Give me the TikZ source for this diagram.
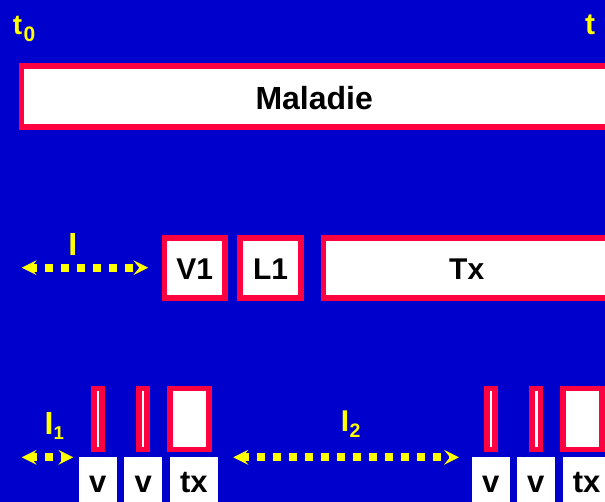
\documentclass[tikz,border=0pt]{standalone}
\usepackage{fontspec}
\setmainfont{Liberation Sans}
\usetikzlibrary{arrows.meta}
\definecolor{bgblue}{RGB}{0,0,204}
\definecolor{boxred}{RGB}{255,0,64}
\definecolor{gapyellow}{RGB}{255,255,0}
\newcommand\fs[1]{\fontsize{#1}{#1}\selectfont}
\tikzset{
  redbox/.style={draw=boxred, fill=white, line width=5.8pt, inner sep=0pt,
    text=black, font=\bfseries, text depth=0pt},
  bar/.style={draw=boxred, fill=white, line width=5.8pt, inner sep=0pt,
    minimum height=60.8pt},
  tag/.style={fill=white, inner sep=0pt, text=black, font=\bfseries\fs{31},
    minimum height=55.3pt, text height=16.7pt, text depth=0pt},
  lab/.style={text=gapyellow, font=\bfseries, inner sep=0pt},
  gap/.style={draw=gapyellow, line width=8pt, dash pattern=on 8pt off 8pt,
    dash phase=1.7pt,
    {Stealth[length=15pt,width=15pt,inset=6pt,line width=0pt]}-{Stealth[length=15pt,width=15pt,inset=6pt,line width=0pt]}}
}
\begin{document}
\begin{tikzpicture}[x=1pt, y=-1pt]
\useasboundingbox (0,0) rectangle (605,502);
\fill[bgblue] (0,0) rectangle (605,502);

% time marks
\node[lab, anchor=base west] (t0) at (12.7,34.3) {\fs{28}t\hspace{1.5pt}\raisebox{-7.4pt}{\fs{21}0}};
\node[lab, anchor=base west] (t1) at (585,34.3) {\fs{30}t};

% disease span, running on past the right edge
\node[redbox, font=\bfseries\fs{32}, minimum width=620pt, minimum height=60.9pt,
  text height=25.3pt] (maladie) at (331.4,96.65) {Maladie\kern34.4pt};

% first course
\node[redbox, font=\bfseries\fs{30}, minimum width=60.4pt, minimum height=60.4pt,
  text height=24pt] (v1) at (194.7,268) {V1};
\node[redbox, font=\bfseries\fs{30}, minimum width=61pt, minimum height=60.4pt,
  text height=24pt] (l1) at (270.6,268) {L1};
\node[redbox, font=\bfseries\fs{30}, minimum width=320pt, minimum height=60.4pt,
  text height=24pt] (tx) at (483.5,268) {Tx\kern33.6pt};

\node[lab, anchor=base, font=\bfseries\fs{32}] (ilab) at (72.7,255.7) {I};
\coordinate (ia) at (21.7,267.7);
\coordinate (ib) at (148.3,267.7);
\draw[gap] (ia) -- (ib);

% repeated courses, first cycle
\node[bar, minimum width=8.2pt] (ba1) at (97.7,419) {};
\node[bar, minimum width=8.5pt] (ba2) at (142.85,419) {};
\node[bar, minimum width=39.2pt] (ba3) at (189.2,419) {};
\node[tag, minimum width=37.7pt] (ta1) at (97.85,484.35) {v};
\node[tag, minimum width=38.3pt] (ta2) at (143.15,484.35) {v};
\node[tag, minimum width=47.7pt] (ta3) at (193.85,484.35) {tx};

% repeated courses, second cycle
\node[bar, minimum width=8.2pt] (bb1) at (490.85,419) {};
\node[bar, minimum width=8.5pt] (bb2) at (536.15,419) {};
\node[bar, minimum width=39.2pt] (bb3) at (582.5,419) {};
\node[tag, minimum width=38.3pt] (tb1) at (490.85,484.35) {v};
\node[tag, minimum width=38.3pt] (tb2) at (535.85,484.35) {v};
\node[tag, minimum width=47.7pt] (tb3) at (586.55,484.35) {tx};

% intervals
\node[lab, anchor=base west] (i1lab) at (44.5,435) {\fs{32}I\raisebox{-5pt}{\fs{18.6}1}};
\coordinate (i1a) at (21.7,457.3);
\coordinate (i1b) at (73.3,457.3);
\draw[gap] (i1a) -- (i1b);

\node[lab, anchor=base west] (i2lab) at (340.6,431.7) {\fs{30}I\hspace{0.5pt}\raisebox{-5.6pt}{\fs{19.5}2}};
\coordinate (i2a) at (233.3,457.3);
\coordinate (i2b) at (459,457.3);
\draw[gap] (i2a) -- (i2b);
\end{tikzpicture}
\end{document}
